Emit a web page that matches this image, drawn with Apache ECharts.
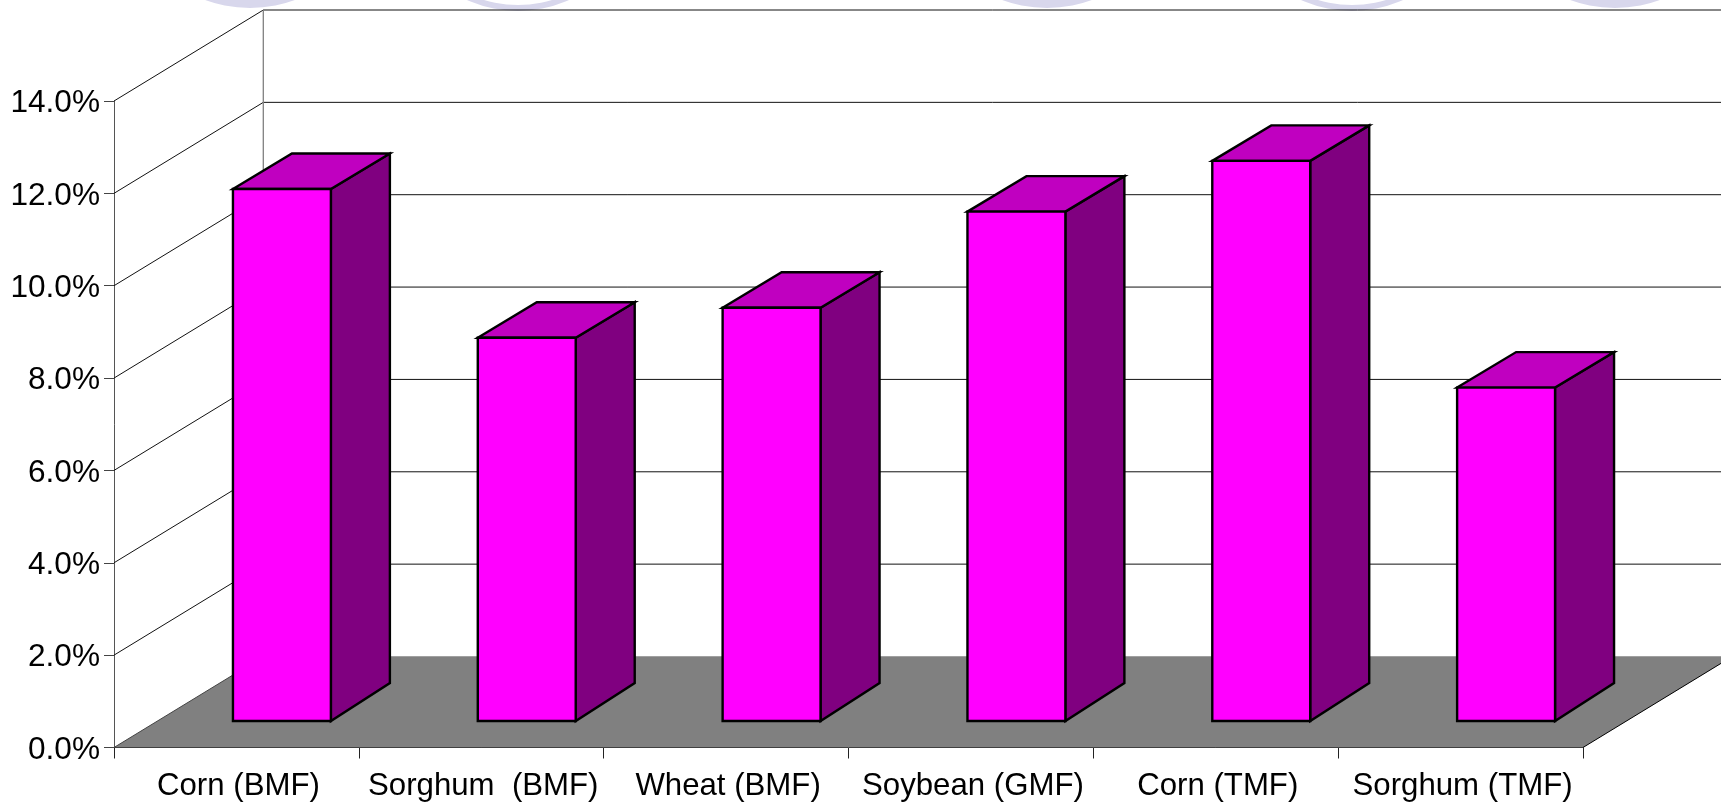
<!DOCTYPE html>
<html>
<head>
<meta charset="utf-8">
<style>html,body{margin:0;padding:0;background:#fff;overflow:hidden}#c{width:1721px;height:803px}</style>
<script src="https://cdn.jsdelivr.net/npm/echarts@6/dist/echarts.min.js"></script>
</head>
<body>
<div id="c"></div>
<script>
const categories = ['Corn (BMF)', 'Sorghum  (BMF)', 'Wheat (BMF)', 'Soybean (GMF)', 'Corn (TMF)', 'Sorghum (TMF)'];
const values = [11.52, 8.3, 8.95, 11.03, 12.13, 7.22];
const yTicks = [0, 2, 4, 6, 8, 10, 12, 14];

const FONT = '"Liberation Sans", Arial, sans-serif';
// oblique projection of the chart's depth axis, in pixels
const DEPTH = [149.3, -91];
const BAR_OFFSET = [45.5, -26.5];
const BAR_DEPTH_X = 59;
const BAR_DEPTH_TOP = -35.5;
const BAR_DEPTH_BASE = -38;
const BAR_FRACTION = 0.4;

function line(x1, y1, x2, y2, stroke, w) {
  return { type: 'line', shape: { x1, y1, x2, y2 }, style: { stroke, lineWidth: w || 1, fill: null }, silent: true };
}
function poly(points, fill, stroke, w) {
  return {
    type: 'polygon', shape: { points },
    style: { fill, stroke: stroke || null, lineWidth: w || 0, lineJoin: 'miter' }, silent: true
  };
}

function renderFloor(params, api) {
  const cs = params.coordSys;
  const y0 = api.coord([0, 0])[1];
  const l = cs.x, r = cs.x + cs.width;
  return {
    type: 'group',
    children: [
      poly([[l, y0], [l + DEPTH[0], y0 + DEPTH[1]], [r + DEPTH[0], y0 + DEPTH[1]], [r, y0]], '#808080'),
      line(r, y0, r + DEPTH[0], y0 + DEPTH[1], '#000'),
      line(l, y0, l + DEPTH[0], y0 + DEPTH[1], '#444'),
      line(l + DEPTH[0], y0 + DEPTH[1], 1721, y0 + DEPTH[1], '#a0a0a0')
    ]
  };
}

function renderWall(params, api) {
  const cs = params.coordSys;
  const v = api.value(0);
  const y = api.coord([0, v])[1];
  const l = cs.x;
  const children = [];
  if (v > 0) {
    children.push(line(l, y, l + DEPTH[0], y + DEPTH[1], '#111'));
    children.push(line(l + DEPTH[0], y + DEPTH[1], cs.x + cs.width + DEPTH[0], y + DEPTH[1], '#111'));
  }
  if (v === yTicks[yTicks.length - 1]) {
    const y0 = api.coord([0, 0])[1];
    children.push(line(l + DEPTH[0], y + DEPTH[1], l + DEPTH[0], y0 + DEPTH[1], '#808080', 1.3));
  }
  return { type: 'group', children };
}

function renderBar(params, api) {
  const idx = api.value(0);
  const top = api.coord([idx, api.value(1)]);
  const bottom = api.coord([idx, 0]);
  const w = api.size([1, 0])[0] * BAR_FRACTION;
  const xl = top[0] + BAR_OFFSET[0] - w / 2;
  const xr = xl + w;
  const yt = top[1] + BAR_OFFSET[1];
  const yb = bottom[1] + BAR_OFFSET[1];
  const dx = BAR_DEPTH_X;
  return {
    type: 'group',
    children: [
      poly([[xr, yt], [xr + dx, yt + BAR_DEPTH_TOP], [xr + dx, yb + BAR_DEPTH_BASE], [xr, yb]], '#800080', '#000', 2.4),
      poly([[xl, yt], [xl + dx, yt + BAR_DEPTH_TOP], [xr + dx, yt + BAR_DEPTH_TOP], [xr, yt]], '#C000C0', '#000', 2.4),
      poly([[xl, yt], [xr, yt], [xr, yb], [xl, yb]], '#FF00FF', '#000', 2.4)
    ]
  };
}

const ARC = '#D8D7EC';
const blob = (cx) => ({
  type: 'circle', shape: { cx, cy: -122, r: 130 },
  style: { fill: ARC }, silent: true, z: -1
});
const ring = (cx) => ({
  type: 'ring', shape: { cx, cy: -113, r: 124, r0: 118 },
  style: { fill: ARC }, silent: true, z: -1
});

const chart = echarts.init(document.getElementById('c'), null, { renderer: 'canvas' });
chart.setOption({
  animation: false,
  backgroundColor: '#fff',
  graphic: [blob(250), ring(518), blob(1047), ring(1352), blob(1615)],
  grid: { left: 114, top: 101, width: 1469, height: 646.5 },
  xAxis: {
    type: 'category',
    data: categories,
    boundaryGap: true,
    axisLine: { show: true, lineStyle: { color: '#000', width: 1 } },
    axisTick: { show: true, length: 11, lineStyle: { color: '#222', width: 1 } },
    axisLabel: { color: '#000', fontFamily: FONT, fontSize: 31.2, margin: 23, padding: [0, 0, 0, 4], interval: 0, hideOverlap: false },
    splitLine: { show: false }
  },
  yAxis: {
    type: 'value',
    min: 0,
    max: 14,
    interval: 2,
    axisLine: { show: true, lineStyle: { color: '#555', width: 1 } },
    axisTick: { show: true, length: 10, lineStyle: { color: '#444', width: 1 } },
    axisLabel: { color: '#000', fontFamily: FONT, fontSize: 31.6, margin: 14, verticalAlign: 'top', lineHeight: 5, formatter: (v) => v.toFixed(1) + '%' },
    splitLine: { show: false }
  },
  series: [
    { type: 'custom', coordinateSystem: 'cartesian2d', clip: false, silent: true, z: 1, renderItem: renderFloor, data: [[0]] , encode: { x: 0 } },
    { type: 'custom', coordinateSystem: 'cartesian2d', clip: false, silent: true, z: 1, renderItem: renderWall, data: yTicks.map((t) => [t]), encode: { y: 0 } },
    {
      type: 'custom', coordinateSystem: 'cartesian2d', clip: false, silent: true, z: 3,
      renderItem: renderBar,
      data: values.map((v, i) => [i, v]),
      encode: { x: 0, y: 1 }
    }
  ]
});
</script>
</body>
</html>
